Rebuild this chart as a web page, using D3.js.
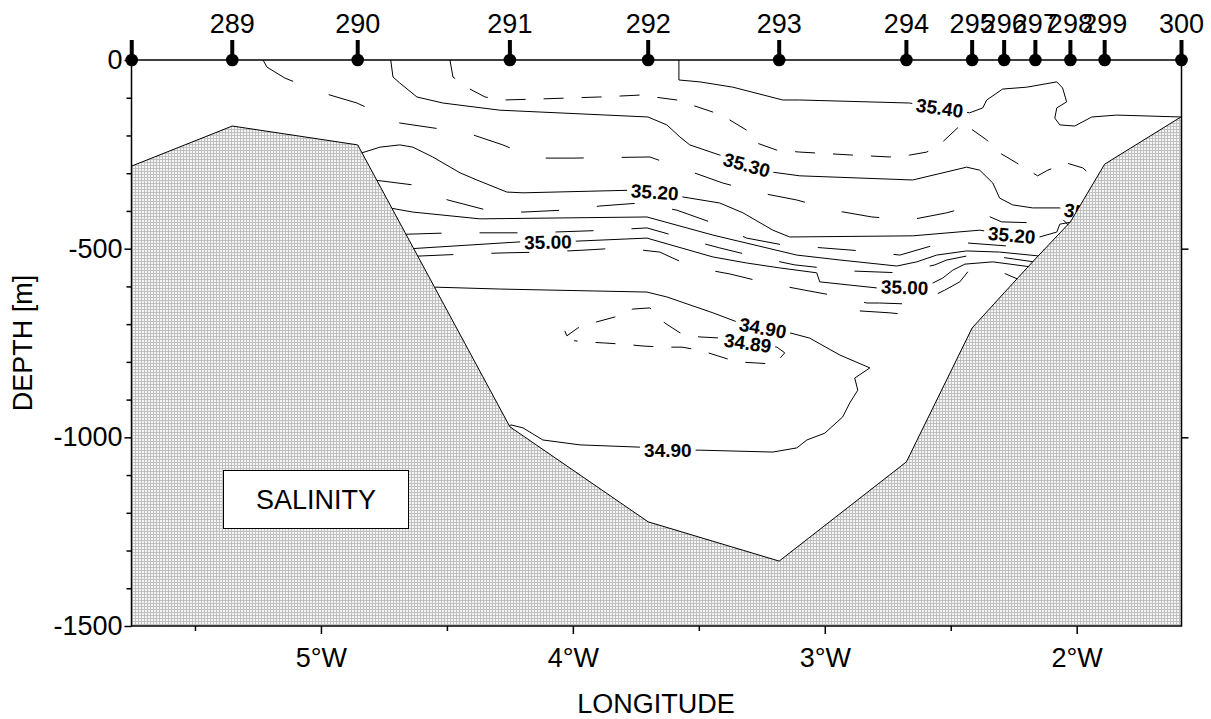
<!DOCTYPE html>
<html>
<head>
<meta charset="utf-8">
<script src="https://cdn.jsdelivr.net/npm/d3@7"></script>
<style>
  body { margin: 0; background: #fff; }
  svg { display: block; font-family: Arial, "Liberation Sans", sans-serif; }
</style>
</head>
<body>
<main></main>
<script>
const width = 1211;
const height = 719;

// stations along the section (top markers) and bottom depth under each
const stationLabels = ['', '289', '290', '291', '292', '293', '294', '295', '296', '297', '298', '299', '300'];
const stationLon = [-5.751, -5.352, -4.854, -4.250, -3.701, -3.181, -2.676, -2.415, -2.288, -2.164, -2.025, -1.889, -1.584];
const bottomDepth = [-281, -175, -225, -972, -1224, -1328, -1065, -710, -617, -527, -429, -276, -150];

const lonTicks = [-5, -4, -3, -2];
const lonMinorTicks = [-5.5, -4.5, -3.5, -2.5];
const depthTicks = [0, -500, -1000, -1500];
const depthMinorTicks = [-100, -200, -300, -400, -600, -700, -800, -900, -1100, -1200, -1300, -1400];

// salinity isolines, [lon, depth]
const s3540 = [[-3.579,0],[-3.579,-53],[-3.496,-58],[-3.365,-72],[-3.167,-106],[-3.099,-106],[-2.663,-114],[-2.544,-127],[-2.425,-140],[-2.373,-127],[-2.357,-106],[-2.294,-77],[-2.198,-72],[-2.079,-58],[-2.056,-74],[-2.040,-111],[-2.079,-127],[-2.087,-154],[-2.067,-172],[-2.008,-175],[-1.940,-151],[-1.841,-146],[-1.587,-151]];
const s3535 = [[-4.488,0],[-4.476,-45],[-4.417,-74],[-4.349,-98],[-4.278,-106],[-4.119,-103],[-3.893,-98],[-3.734,-93],[-3.587,-106],[-3.444,-138],[-3.377,-159],[-3.310,-186],[-3.270,-220],[-3.190,-239],[-3.099,-244],[-2.889,-252],[-2.742,-257],[-2.663,-252],[-2.595,-244],[-2.532,-217],[-2.452,-167],[-2.357,-212],[-2.306,-246],[-2.238,-273],[-2.155,-307],[-2.115,-292],[-2.040,-273],[-1.976,-286],[-1.940,-307]];
const s3530 = [[-4.723,0],[-4.714,-45],[-4.687,-61],[-4.619,-98],[-4.516,-114],[-4.290,-133],[-3.702,-151],[-3.627,-172],[-3.575,-204],[-3.536,-225],[-3.417,-252],[-3.310,-278],[-3.210,-297],[-3.099,-307],[-2.651,-318],[-2.437,-284],[-2.385,-292],[-2.333,-326],[-2.306,-366],[-2.254,-384],[-2.175,-392],[-2.067,-392],[-1.988,-411]];
const s3525 = [[-5.230,0],[-5.214,-19],[-5.143,-48],[-5.004,-85],[-4.857,-114],[-4.687,-167],[-4.575,-178],[-4.421,-193],[-4.278,-225],[-4.151,-260],[-4.000,-260],[-3.694,-257],[-3.548,-292],[-3.405,-326],[-3.258,-352],[-3.111,-371],[-2.968,-398],[-2.813,-416],[-2.663,-424],[-2.516,-405],[-2.433,-390],[-2.298,-429],[-2.147,-432],[-2.060,-419],[-2.030,-440]];
const s3520 = [[-4.842,-252],[-4.837,-246],[-4.766,-231],[-4.687,-225],[-4.635,-231],[-4.556,-257],[-4.448,-299],[-4.381,-318],[-4.262,-350],[-4.198,-352],[-3.762,-345],[-3.675,-350],[-3.563,-363],[-3.417,-379],[-3.325,-405],[-3.206,-451],[-3.139,-469],[-2.651,-466],[-2.385,-451],[-2.258,-464],[-2.147,-469],[-2.079,-456],[-2.067,-435],[-2.016,-429]];
const s3515 = [[-4.790,-318],[-4.635,-331],[-4.496,-371],[-4.341,-398],[-4.198,-403],[-4.040,-398],[-3.893,-387],[-3.734,-379],[-3.587,-398],[-3.444,-432],[-3.310,-472],[-3.167,-490],[-3.008,-498],[-2.853,-506],[-2.702,-517],[-2.563,-490],[-2.433,-485],[-2.274,-493],[-2.127,-503],[-2.110,-510]];
const s3510 = [[-4.728,-392],[-4.635,-403],[-4.369,-421],[-3.706,-416],[-3.444,-464],[-3.111,-517],[-2.940,-530],[-2.714,-546],[-2.635,-535],[-2.556,-517],[-2.437,-506],[-2.306,-509],[-2.155,-519],[-2.140,-525]];
const s3505 = [[-4.672,-462],[-4.476,-458],[-4.163,-458],[-3.861,-451],[-3.706,-445],[-3.563,-472],[-3.417,-498],[-3.270,-522],[-3.119,-543],[-2.901,-559],[-2.702,-564],[-2.563,-543],[-2.516,-530],[-2.433,-519],[-2.306,-522],[-2.170,-535]];
const s3500 = [[-4.640,-500],[-4.210,-482],[-4.099,-482],[-3.984,-480],[-3.706,-472],[-3.444,-522],[-3.310,-538],[-3.179,-551],[-3.032,-564],[-3.020,-588],[-2.794,-604],[-2.683,-602],[-2.571,-591],[-2.532,-578],[-2.492,-557],[-2.444,-541],[-2.333,-535],[-2.185,-548]];
const s3495 = [[-4.625,-520],[-4.417,-514],[-4.262,-511],[-4.111,-509],[-3.960,-504],[-3.806,-498],[-3.655,-509],[-3.603,-525],[-3.524,-549],[-3.377,-567],[-3.230,-591],[-3.079,-610],[-2.933,-628],[-2.833,-644],[-2.782,-644],[-2.651,-647],[-2.595,-633],[-2.524,-610],[-2.464,-588],[-2.433,-562],[-2.337,-551],[-2.226,-583]];
const s3495b = [[-2.861,-665],[-2.742,-670],[-2.655,-676]];
const s3490 = [[-4.555,-610],[-4.548,-602],[-4.290,-607],[-3.706,-615],[-3.627,-628],[-3.444,-670],[-3.337,-697],[-3.246,-710],[-3.139,-723],[-3.060,-737],[-2.940,-782],[-2.821,-816],[-2.881,-843],[-2.869,-875],[-2.901,-909],[-2.929,-946],[-3.000,-989],[-3.071,-1007],[-3.111,-1028],[-3.206,-1039],[-3.496,-1034],[-3.623,-1034],[-3.734,-1026],[-3.972,-1020],[-4.119,-1007],[-4.198,-975],[-4.246,-967],[-4.260,-975]];
const s3489 = [[-4.032,-718],[-4.024,-731],[-3.980,-710],[-3.905,-694],[-3.833,-681],[-3.762,-660],[-3.694,-657],[-3.635,-697],[-3.575,-723],[-3.496,-734],[-3.409,-737],[-3.306,-750],[-3.190,-761],[-3.159,-776],[-3.198,-806],[-3.270,-803],[-3.349,-800],[-3.425,-784],[-3.496,-769],[-3.567,-761],[-3.643,-761],[-3.722,-758],[-3.802,-753],[-3.873,-750],[-3.952,-747],[-3.995,-744]];

const contours = [
    {id: 'c3540', level: 35.40, pts: s3540},
    {id: 'c3535', level: 35.35, pts: s3535},
    {id: 'c3530', level: 35.30, pts: s3530},
    {id: 'c3525', level: 35.25, pts: s3525},
    {id: 'c3520', level: 35.20, pts: s3520},
    {id: 'c3515', level: 35.15, pts: s3515},
    {id: 'c3510', level: 35.10, pts: s3510},
    {id: 'c3505', level: 35.05, pts: s3505},
    {id: 'c3500', level: 35.00, pts: s3500},
    {id: 'c3495', level: 34.95, pts: s3495},
    {id: 'c3495b', level: 34.95, pts: s3495b},
    {id: 'c3490', level: 34.90, pts: s3490},
    {id: 'c3489', level: 34.89, pts: s3489}
];

// contour labels
const labelContour = ['c3540', 'c3530', 'c3530', 'c3520', 'c3520', 'c3500', 'c3500', 'c3490', 'c3489', 'c3490'];
const labelText = ['35.40', '35.30', '35.30', '35.20', '35.20', '35.00', '35.00', '34.90', '34.89', '34.90'];
const labelLon = [-2.544, -3.310, -1.956, -3.675, -2.258, -4.099, -2.683, -3.246, -3.306, -3.623];
const labelDepth = [-127, -278, -405, -350, -464, -482, -602, -710, -750, -1034];
const labelAngle = [8, 15, 8, 4, 5, -1, 2, 10, 8, 0];

const x = d3.scaleLinear().domain([-5.752, -1.584]).range([131.5, 1181.5]);
const y = d3.scaleLinear().domain([-1500, 0]).range([626, 60]);

const svg = d3.select('main').append('svg')
    .attr('width', width)
    .attr('height', height);

const defs = svg.append('defs');

const pat = defs.append('pattern')
    .attr('id', 'sand')
    .attr('patternUnits', 'userSpaceOnUse')
    .attr('width', 3)
    .attr('height', 3);
pat.append('rect').attr('width', 3).attr('height', 3).attr('fill', '#f4f4f4');
pat.append('rect').attr('width', 3).attr('height', 1).attr('fill', '#c0c0c0');
pat.append('rect').attr('width', 1).attr('height', 3).attr('fill', '#c0c0c0');

defs.append('clipPath').attr('id', 'plot')
    .append('rect')
    .attr('x', x.range()[0]).attr('y', y(0))
    .attr('width', x.range()[1] - x.range()[0])
    .attr('height', y(-1500) - y(0));

const line = d3.line().x(d => x(d[0])).y(d => y(d[1]));

// isolines
const contourG = svg.append('g').attr('clip-path', 'url(#plot)');
contours.forEach(c => {
    const dashed = Math.round(c.level * 100) % 10 !== 0;
    const short = c.level === 35.35 || c.level === 34.89;
    const p = contourG.append('path')
        .attr('d', line(c.pts))
        .attr('fill', 'none')
        .attr('stroke', '#000')
        .attr('stroke-width', 1);
    if (dashed) p.attr('stroke-dasharray', short ? '20,18' : '38,38');
    if (labelContour.includes(c.id)) p.attr('mask', 'url(#mask-' + c.id + ')');
});

// labels (drawn before the bottom so it can hide them)
const labelG = svg.append('g');
const masks = {};
labelText.forEach((t, i) => {
    const lx = x(labelLon[i]);
    const ly = y(labelDepth[i]);
    const txt = labelG.append('text')
        .attr('transform', `translate(${lx},${ly}) rotate(${labelAngle[i]})`)
        .attr('text-anchor', 'middle')
        .attr('dy', '0.36em')
        .attr('font-size', 19)
        .attr('font-weight', 'bold')
        .text(t);
    const w = txt.node().getComputedTextLength();
    const id = labelContour[i];
    if (!masks[id]) {
        masks[id] = defs.append('mask')
            .attr('id', 'mask-' + id)
            .attr('maskUnits', 'userSpaceOnUse')
            .attr('x', 0).attr('y', 0)
            .attr('width', width).attr('height', height);
        masks[id].append('rect').attr('width', width).attr('height', height).attr('fill', '#fff');
    }
    masks[id].append('rect')
        .attr('x', -w / 2 - 4).attr('y', -8)
        .attr('width', w + 8).attr('height', 16)
        .attr('fill', '#000')
        .attr('transform', `translate(${lx},${ly}) rotate(${labelAngle[i]})`);
});

// sea bottom
const bottomPts = stationLon.map((l, i) => [l, bottomDepth[i]]);
const polyPts = bottomPts.concat([[stationLon[stationLon.length - 1], -1500], [stationLon[0], -1500]]);
svg.append('path')
    .attr('d', line(polyPts) + 'Z')
    .attr('fill', 'url(#sand)')
    .attr('stroke', 'none')
    .attr('clip-path', 'url(#plot)');
svg.append('path')
    .attr('d', line(bottomPts))
    .attr('fill', 'none')
    .attr('stroke', '#000')
    .attr('stroke-width', 1);

// axes
const styleAxis = g => {
    g.selectAll('text').attr('font-size', 27).attr('font-family', 'Arial, "Liberation Sans", sans-serif').attr('fill', '#000');
    g.selectAll('line').attr('stroke', '#000').attr('stroke-width', 1.5);
    g.select('.domain').remove();
};

svg.append('g')
    .attr('transform', `translate(${x.range()[0]},0)`)
    .call(d3.axisLeft(y).tickValues(depthTicks).tickSize(7).tickPadding(2).tickFormat(d => String(d)))
    .call(styleAxis);
svg.append('g')
    .attr('transform', `translate(${x.range()[0]},0)`)
    .call(d3.axisLeft(y).tickValues(depthMinorTicks).tickSize(5).tickFormat(''))
    .call(styleAxis);
svg.append('g')
    .attr('transform', `translate(${x.range()[1]},0)`)
    .call(d3.axisRight(y).tickValues([-500, -1000]).tickSize(7).tickFormat(''))
    .call(styleAxis);
svg.append('g')
    .attr('transform', `translate(0,${y(-1500)})`)
    .call(d3.axisBottom(x).tickValues(lonTicks).tickSize(8).tickPadding(14).tickFormat(d => Math.abs(d) + '°W'))
    .call(styleAxis);
svg.append('g')
    .attr('transform', `translate(0,${y(-1500)})`)
    .call(d3.axisBottom(x).tickValues(lonMinorTicks).tickSize(5).tickFormat(''))
    .call(styleAxis);

svg.append('rect')
    .attr('x', x.range()[0]).attr('y', y(0))
    .attr('width', x.range()[1] - x.range()[0])
    .attr('height', y(-1500) - y(0))
    .attr('fill', 'none')
    .attr('stroke', '#000')
    .attr('stroke-width', 1.5);

// station markers
const st = svg.append('g').selectAll('g')
    .data(stationLon)
    .enter()
    .append('g')
    .attr('transform', d => `translate(${x(d)},${y(0)})`);
st.append('line').attr('y1', -20).attr('y2', 0).attr('stroke', '#000').attr('stroke-width', 4);
st.append('circle').attr('r', 6.3).attr('fill', '#000');
st.append('text')
    .attr('y', -27)
    .attr('text-anchor', 'middle')
    .attr('font-size', 27)
    .text((d, i) => stationLabels[i]);

// SALINITY box
svg.append('rect')
    .attr('x', 223.5).attr('y', 470.5)
    .attr('width', 185).attr('height', 58)
    .attr('fill', '#fff')
    .attr('stroke', '#000')
    .attr('stroke-width', 1);
svg.append('text')
    .attr('x', 316).attr('y', 509)
    .attr('text-anchor', 'middle')
    .attr('font-size', 27)
    .text('SALINITY');

// titles
svg.append('text')
    .attr('x', 656).attr('y', 713)
    .attr('text-anchor', 'middle')
    .attr('font-size', 27)
    .text('LONGITUDE');
svg.append('text')
    .attr('transform', 'translate(32,343) rotate(-90)')
    .attr('text-anchor', 'middle')
    .attr('font-size', 27)
    .text('DEPTH [m]');
</script>
</body>
</html>
